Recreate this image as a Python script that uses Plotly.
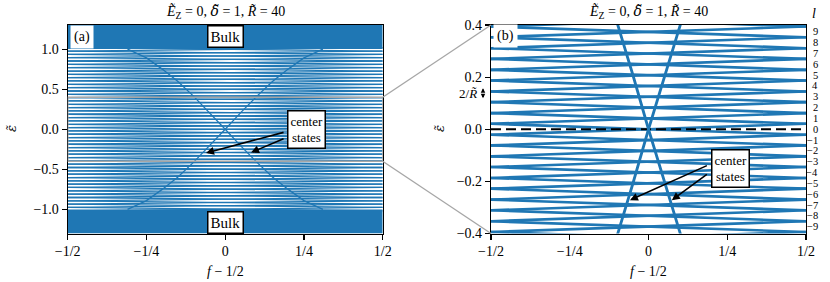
import plotly.graph_objects as go

# ---------------- data ----------------
# energies where neighbouring levels cross at the edges f-1/2 = +-1/2
EDGE_CROSS = [-1.017, -0.975, -0.934, -0.892, -0.851, -0.809, -0.768, -0.726,
              -0.685, -0.643, -0.602, -0.560, -0.519, -0.477, -0.436, -0.394,
              -0.353, -0.311, -0.270, -0.228, -0.187, -0.145, -0.104, -0.062,
              -0.021, 0.021, 0.062, 0.104, 0.145, 0.187, 0.228, 0.270, 0.311,
              0.353, 0.394, 0.436, 0.477, 0.519, 0.560, 0.602, 0.643, 0.685,
              0.726, 0.768, 0.809, 0.851, 0.892, 0.934, 0.975, 1.017]
FLUX_EDGES = [-0.5, 0.5]

# level index labels (panel b, right side) and their energies at f-1/2 = 0
L_LABELS = [-9, -8, -7, -6, -5, -4, -3, -2, -1, 0, 1, 2, 3, 4, 5, 6, 7, 8, 9]
L_ENERGY = [-0.374, -0.332, -0.291, -0.249, -0.208, -0.166, -0.125, -0.083,
            -0.042, 0.0, 0.042, 0.083, 0.125, 0.166, 0.208, 0.249, 0.291,
            0.332, 0.374]

# center states curve (one branch; other branch is mirror in energy)
CS_X = [-0.31, -0.25, -0.20, -0.15, -0.10, -0.05, 0.0, 0.05, 0.10, 0.15, 0.20, 0.25, 0.31]
CS_E = [-1.0, -0.89, -0.75, -0.595, -0.41, -0.21, 0.0, 0.21, 0.41, 0.595, 0.75, 0.89, 1.0]

BULK_EDGE = 1.0
Y_LIM_A = 1.3
ZOOM_LIM = 0.4
ZERO_LEVEL = 0.0
SPACING_MARK = [0.119, 0.138, 0.157]   # the 2/R marker: bottom, middle, top

X_TICKS = [-0.5, -0.25, 0, 0.25, 0.5]
X_TICK_TEXT = ["\u22121/2", "\u22121/4", "0", "1/4", "1/2"]
YA_TICKS = [-1.0, -0.5, 0.0, 0.5, 1.0]
YA_TICK_TEXT = ["\u22121.0", "\u22120.5", "0.0", "0.5", "1.0"]
YB_TICKS = [-0.4, -0.2, 0.0, 0.2, 0.4]
YB_TICK_TEXT = ["\u22120.4", "\u22120.2", "0.0", "0.2", "0.4"]

BLUE = "#1f77b4"
GREY = "#a6a6a6"
FONT = "Liberation Serif"
W, H = 830, 282


def PX(x):
    return x / W


def PY(y):
    return 1 - y / H


# build the level line segments (rising & falling) from the crossing energies
rx, ry, fx, fy = [], [], [], []
for k in range(len(EDGE_CROSS) - 1):
    rx += [FLUX_EDGES[0], FLUX_EDGES[1], None]
    ry += [EDGE_CROSS[k], EDGE_CROSS[k + 1], None]
    fx += [FLUX_EDGES[0], FLUX_EDGES[1], None]
    fy += [EDGE_CROSS[k + 1], EDGE_CROSS[k], None]

fig = go.Figure()

for xa, ya, lw, cw in [("x", "y", 1.3, 1.3), ("x2", "y2", 2.6, 2.8)]:
    fig.add_trace(go.Scatter(x=rx + fx, y=ry + fy, mode="lines",
                             line=dict(color=BLUE, width=lw),
                             xaxis=xa, yaxis=ya, hoverinfo="skip", showlegend=False))
    if xa == "x":
        for sgn in (1, -1):
            fig.add_trace(go.Scatter(
                x=[FLUX_EDGES[0], FLUX_EDGES[1], FLUX_EDGES[1], FLUX_EDGES[0], FLUX_EDGES[0]],
                y=[sgn * BULK_EDGE, sgn * BULK_EDGE, sgn * Y_LIM_A, sgn * Y_LIM_A, sgn * BULK_EDGE],
                mode="lines", fill="toself", fillcolor=BLUE, line=dict(color=BLUE, width=0),
                xaxis=xa, yaxis=ya, hoverinfo="skip", showlegend=False))
    else:
        fig.add_trace(go.Scatter(x=FLUX_EDGES, y=[ZERO_LEVEL, ZERO_LEVEL], mode="lines",
                                 line=dict(color="black", width=2, dash="10px,5px"),
                                 xaxis=xa, yaxis=ya, hoverinfo="skip", showlegend=False))
    fig.add_trace(go.Scatter(x=CS_X + [None] + CS_X, y=CS_E + [None] + [-e for e in CS_E],
                             mode="lines", line=dict(color=BLUE, width=cw),
                             xaxis=xa, yaxis=ya, hoverinfo="skip", showlegend=False))

axis_common = dict(showline=True, mirror=True, linecolor="black", linewidth=1.1,
                   ticks="outside", ticklen=5, tickwidth=1.1, tickcolor="black",
                   showgrid=False, zeroline=False, automargin=False,
                   tickfont=dict(family=FONT, size=14, color="black"))

fig.update_layout(
    width=W, height=H, margin=dict(l=0, r=0, t=0, b=0, pad=0, autoexpand=False),
    paper_bgcolor="white", plot_bgcolor="white",
    xaxis=dict(domain=[PX(67.7), PX(382.7)], range=[-0.5, 0.5], anchor="y",
               tickvals=X_TICKS, ticktext=X_TICK_TEXT, **axis_common),
    yaxis=dict(domain=[PY(233.5), PY(25)], range=[-Y_LIM_A, Y_LIM_A], anchor="x",
               tickvals=YA_TICKS, ticktext=YA_TICK_TEXT, **axis_common),
    xaxis2=dict(domain=[PX(491), PX(806)], range=[-0.5, 0.5], anchor="y2",
                tickvals=X_TICKS, ticktext=X_TICK_TEXT, **axis_common),
    yaxis2=dict(domain=[PY(233.5), PY(25)], range=[-ZOOM_LIM, ZOOM_LIM], anchor="x2",
                tickvals=YB_TICKS, ticktext=YB_TICK_TEXT, **axis_common),
)

# zoom indicator rectangle and connectors
fig.add_shape(type="rect", xref="x", yref="y", x0=FLUX_EDGES[0], x1=FLUX_EDGES[1],
              y0=-ZOOM_LIM, y1=ZOOM_LIM, line=dict(color=GREY, width=1.5), layer="above")
fig.add_shape(type="line", xref="paper", yref="paper", x0=PX(382.7), y0=PY(97.3),
              x1=PX(491), y1=PY(25), line=dict(color=GREY, width=1.3))
fig.add_shape(type="line", xref="paper", yref="paper", x0=PX(382.7), y0=PY(161.3),
              x1=PX(491), y1=PY(233.5), line=dict(color=GREY, width=1.3))


def txt(text, x, y, xref="paper", yref="paper", size=14, xanchor="center", **kw):
    d = dict(text=text, x=x, y=y, xref=xref, yref=yref, showarrow=False,
             xanchor=xanchor, yanchor="middle",
             font=dict(family=FONT, size=size, color="black"))
    d.update(kw)
    return d


DV = '<span style="font-family:DejaVu Serif">'
title = ("<i>Ẽ</i><sub>Z</sub> = 0, " + DV + "<i>δ\u0303</i></span> = 1, "
         "<i>R̃</i> = 40")
ann = []
for cx in (225.2, 648.5):
    ann.append(txt(title, PX(cx), PY(12)))
    ann.append(txt("<i>f</i> \u2212 1/2", PX(cx), PY(271)))
for cx in (12, 440):
    ann.append(txt(DV + "<i>ε\u0303</i></span>", PX(cx), PY(129), size=13, textangle=-90))

# panel labels
ann.append(txt("(a)", PX(69.5), PY(37), xanchor="left", bgcolor="white", borderpad=3))
ann.append(txt("(b)", PX(493), PY(36), xanchor="left", bgcolor="white", borderpad=3))

# bulk labels
for yy in (1.157, -1.157):
    ann.append(txt("Bulk", 0, yy, xref="x", yref="y", size=15, bgcolor="white",
                   bordercolor="black", borderwidth=1.5, borderpad=2))


def center_states(xr, yr, box, tails, heads):
    out = [txt("center<br>states", box[0], box[1], xref=xr, yref=yr, size=13,
               bgcolor="white", bordercolor="black", borderwidth=1.5, borderpad=2)]
    for t, h in zip(tails, heads):
        out.append(dict(text="", x=h[0], y=h[1], ax=t[0], ay=t[1], xref=xr, yref=yr,
                        axref=xr, ayref=yr, showarrow=True, arrowhead=2, arrowsize=1,
                        arrowwidth=1.6, arrowcolor="black"))
    return out


ann += center_states("x", "y", (0.258, 0.0), [(0.19, -0.034), (0.19, -0.11)],
                     [(-0.061, -0.296), (0.082, -0.29)])
ann += center_states("x2", "y2", (0.259, -0.149), [(0.19, -0.137), (0.19, -0.169)],
                     [(-0.059, -0.272), (0.074, -0.272)])

# l labels on the right of panel b
for lab, e in zip(L_LABELS, L_ENERGY):
    ann.append(txt(str(lab).replace("-", "\u2212"), PX(820), e, yref="y2", size=10.5,
                   xanchor="right"))
ann.append(txt("<i>l</i>", PX(814), PY(14)))

# 2/R spacing marker
ann.append(txt("2/<i>R̃</i>", PX(479), SPACING_MARK[1], yref="y2", size=13,
               xanchor="right"))
for end in (SPACING_MARK[0], SPACING_MARK[2]):
    ann.append(dict(text="", x=PX(483), y=end, ax=0, ay=SPACING_MARK[1],
                    xref="paper", yref="y2", axref="pixel", ayref="y2", showarrow=True,
                    arrowhead=2, arrowsize=0.5, arrowwidth=1.8, arrowcolor="black"))

fig.update_layout(annotations=ann)
fig.write_html("out.html",
               config={"displayModeBar": False, "staticPlot": True},
               post_script="document.body.style.margin='0';"
                           "document.body.style.padding='0';"
                           "document.body.style.overflow='hidden';")
